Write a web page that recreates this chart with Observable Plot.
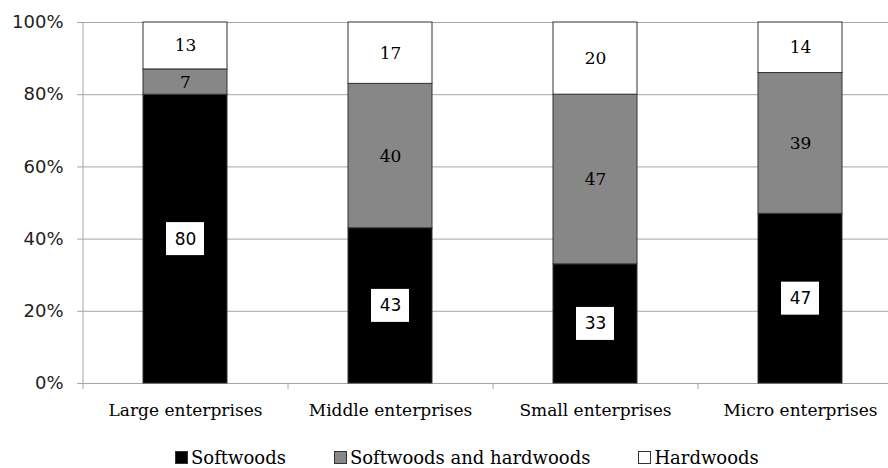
<!DOCTYPE html>
<html>
<head>
<meta charset="utf-8">
<script src="https://cdn.jsdelivr.net/npm/d3@7"></script>
<script src="https://cdn.jsdelivr.net/npm/@observablehq/plot@0.6"></script>
<style>
  body { margin: 0; background: #fff; }
  #chart { width: 888px; position: relative; }
  .legend { display: flex; justify-content: flex-start; align-items: center; font-family: "DejaVu Serif", serif; font-size: 18px; color: #000; height: 30px; margin-top: 12px; padding-left: 175px; }
  .legend .item { display: flex; align-items: center; margin-right: 48px; }
  .legend .sw { width: 11px; height: 11px; border: 1px solid #333; margin-right: 3px; }
</style>
</head>
<body>
<div id="chart"></div>
<script>
const categories = ["Large enterprises", "Middle enterprises", "Small enterprises", "Micro enterprises"];
const seriesNames = ["Softwoods", "Softwoods and hardwoods", "Hardwoods"];
const softwoods = [80, 43, 33, 47];
const mixed = [7, 40, 47, 39];
const hardwoods = [13, 17, 20, 14];
const yTicks = [0, 20, 40, 60, 80, 100];
const colors = ["#000000", "#878787", "#ffffff"];

const seriesValues = [softwoods, mixed, hardwoods];
const data = [];
seriesNames.forEach((s, si) => {
  categories.forEach((c, ci) => data.push({category: c, series: s, value: seriesValues[si][ci]}));
});
const softData = data.filter(d => d.series === seriesNames[0]);

const serif = "DejaVu Serif, serif";
const sans = "DejaVu Sans, sans-serif";

const plot = Plot.plot({
  width: 888,
  height: 430,
  marginLeft: 83,
  marginRight: 0,
  marginTop: 22,
  marginBottom: 47,
  style: {fontFamily: serif, fontSize: "17px", color: "#000", background: "#fff"},
  x: {domain: categories, range: [83, 903], paddingInner: 0.59, paddingOuter: 0.295, label: null},
  y: {domain: [0, 100], label: null},
  color: {domain: seriesNames, range: colors},
  marks: [
    Plot.ruleY(yTicks, {stroke: "#a6a6a6", strokeWidth: 1}),
    Plot.axisY({ticks: yTicks, tickFormat: d => d + "%", tickSize: 6, tickPadding: 14, stroke: "#a6a6a6", label: null, fontSize: 18, fontFamily: sans, fill: "#222"}),
    Plot.ruleX([categories[0]], {x: d => d, dx: -102.5, y1: 0, y2: 100, stroke: "#a6a6a6"}),
    Plot.axisX({tickSize: 6, tickFormat: () => "", dx: -102.5, stroke: "#a6a6a6", label: null}),
    Plot.axisX({tickSize: 0, tickPadding: 20, label: null, fontSize: 17, fill: "#000"}),
    Plot.barY(data, {x: "category", y: "value", z: "series", fill: "series", stroke: "#333", strokeWidth: 1}),
    Plot.barY(softData, {x: "category", y1: d => d.value / 2, y2: d => d.value / 2, fill: "#fff", insetLeft: 23, insetRight: 23, insetTop: -16.5, insetBottom: -16.5}),
    Plot.text(softData, {x: "category", y: d => d.value / 2, text: d => String(d.value), fontFamily: sans, fontSize: 17, fill: "#000"}),
    Plot.text(data, Plot.stackY({
      x: "category", y: "value", z: "series",
      text: d => d.series === seriesNames[0] ? null : String(d.value),
      fontFamily: serif, fontSize: 17, fill: "#000"
    }))
  ]
});
document.getElementById("chart").appendChild(plot);

const legend = document.createElement("div");
legend.className = "legend";
seriesNames.forEach((s, i) => {
  const item = document.createElement("div");
  item.className = "item";
  const sw = document.createElement("span");
  sw.className = "sw";
  sw.style.background = colors[i];
  const lab = document.createElement("span");
  lab.textContent = s;
  item.appendChild(sw);
  item.appendChild(lab);
  legend.appendChild(item);
});
document.getElementById("chart").appendChild(legend);
</script>
</body>
</html>
